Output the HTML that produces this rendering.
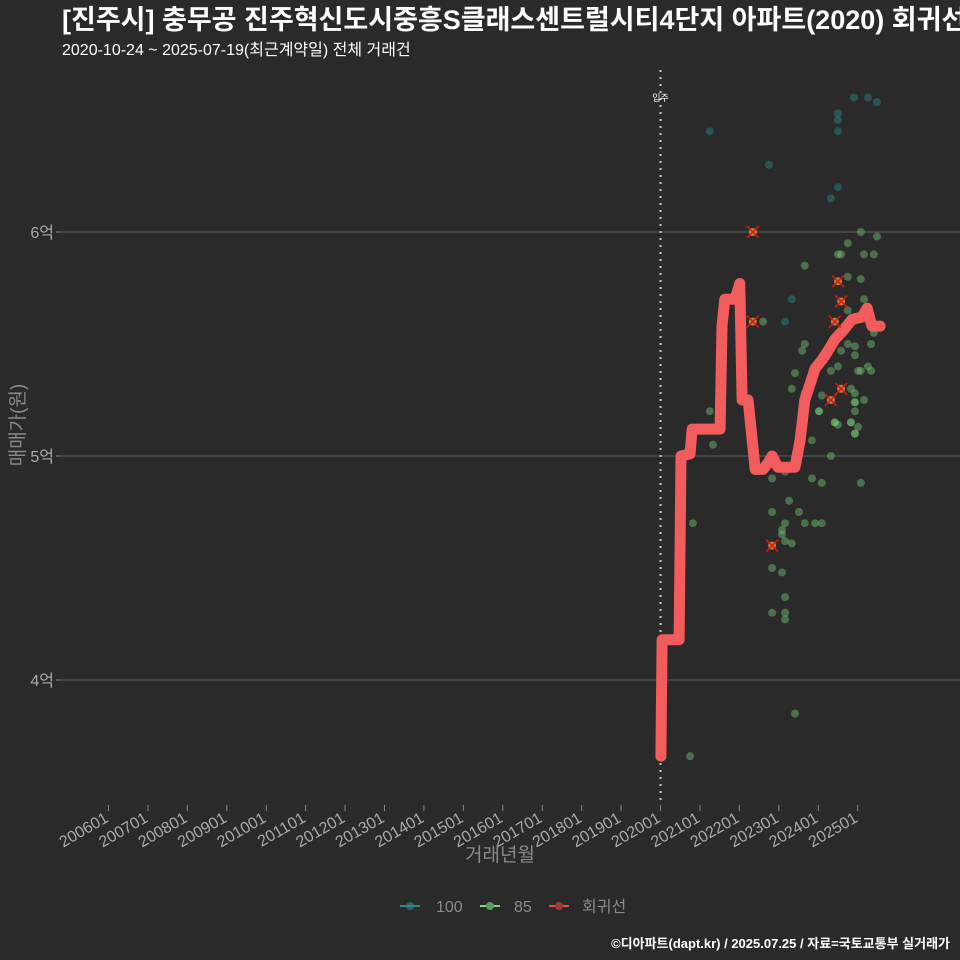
<!DOCTYPE html>
<html><head><meta charset="utf-8"><style>
html,body{margin:0;padding:0;background:#2a2a2b;overflow:hidden;}
svg{display:block;font-family:"Liberation Sans","Noto Sans CJK KR",sans-serif;}
</style></head><body>
<svg id="chart" width="960" height="960" viewBox="0 0 960 960" xmlns="http://www.w3.org/2000/svg">
<rect width="960" height="960" fill="#2a2a2b"/>
<text x="62" y="29" fill="#ffffff" font-size="27" font-weight="bold">[진주시] 충무공 진주혁신도시중흥S클래스센트럴시티4단지 아파트(2020) 회귀선</text>
<text x="62" y="55" fill="#ffffff" font-size="16">2020-10-24 ~ 2025-07-19(최근계약일) 전체 거래건</text>
<g id="grid"></g><g id="axes"></g><g id="marks"></g>
<text x="500" y="861" fill="#8a8a8a" font-size="19" text-anchor="middle">거래년월</text>
<text transform="translate(24,425) rotate(-90)" fill="#8a8a8a" font-size="19" text-anchor="middle">매매가(원)</text>
<g>
 <g><line x1="400" y1="906" x2="420" y2="906" stroke="#2a8a8a" stroke-width="2"/><circle cx="410" cy="906" r="4" fill="#2a8a8a" opacity="0.6"/><text x="436" y="912" fill="#8a8a8a" font-size="16">100</text></g>
 <g><line x1="480" y1="906" x2="500" y2="906" stroke="#7fd67f" stroke-width="2"/><circle cx="490" cy="906" r="4" fill="#5a9a5a"/><text x="514" y="912" fill="#8a8a8a" font-size="16">85</text></g>
 <g><line x1="549" y1="906" x2="569" y2="906" stroke="#e05050" stroke-width="2"/><circle cx="559" cy="906" r="4" fill="#a03a3a"/><text x="582" y="912" fill="#8a8a8a" font-size="16">회귀선</text></g>
</g>
<text x="950" y="948" fill="#ffffff" font-size="13" font-weight="bold" text-anchor="end">©디아파트(dapt.kr) / 2025.07.25 / 자료=국토교통부 실거래가</text>
</svg>
<script>
const xTickLabels=["200601","200701","200801","200901","201001","201101","201201","201301","201401","201501","201601","201701","201801","201901","202001","202101","202201","202301","202401","202501"];
const xTickYears=[2006,2007,2008,2009,2010,2011,2012,2013,2014,2015,2016,2017,2018,2019,2020,2021,2022,2023,2024,2025];
const yTickValues=[4,5,6];
const yTickLabels=["4억","5억","6억"];
const moveInYear=2020.0;
const s100T=[2024.91,2025.26,2025.49,2024.50,2024.50,2024.50,2021.25,2022.75,2024.50,2024.32,2023.33,2023.16];
const s100V=[6.60,6.60,6.58,6.53,6.50,6.45,6.45,6.30,6.20,6.15,5.70,5.60];
const s85T=[2025.08,2025.49,2024.75,2024.50,2024.58,2025.16,2025.41,2023.66,2024.75,2025.08,2025.16,2024.75,2022.60,2023.66,2023.59,2024.75,2025.34,2024.93,2024.93,2024.58,2025.41,2023.41,2024.32,2024.50,2025.01,2025.08,2025.34,2025.26,2023.33,2023.66,2024.09,2024.83,2024.93,2025.16,2024.93,2024.02,2024.93,2024.42,2024.50,2024.83,2025.01,2024.93,2021.25,2021.33,2020.82,2020.75,2023.41,2022.83,2023.16,2023.84,2024.09,2025.08,2024.32,2023.26,2022.83,2023.51,2023.16,2023.66,2023.92,2024.09,2023.08,2023.08,2023.16,2023.33,2022.83,2023.08,2023.16,2022.83,2023.16,2023.16,2023.84,2023.51,2024.02,2024.42,2024.83,2024.93,2024.93];
const s85V=[6.00,5.98,5.95,5.90,5.90,5.90,5.90,5.85,5.80,5.79,5.70,5.65,5.60,5.50,5.47,5.50,5.50,5.49,5.45,5.47,5.55,5.37,5.38,5.40,5.38,5.38,5.38,5.40,5.30,5.28,5.27,5.30,5.28,5.25,5.24,5.20,5.20,5.15,5.14,5.15,5.13,5.10,5.20,5.05,4.70,3.66,3.85,4.90,4.93,4.90,4.88,4.88,5.00,4.80,4.75,4.75,4.70,4.70,4.70,4.70,4.67,4.65,4.62,4.61,4.50,4.48,4.37,4.30,4.30,4.27,5.07,5.08,5.20,5.15,5.15,5.10,5.24];
const crossT=[2022.34,2022.34,2024.50,2024.58,2024.42,2024.58,2024.32,2022.83];
const crossV=[6.00,5.60,5.78,5.69,5.60,5.30,5.25,4.60];
const lineT=[2020.01,2020.04,2020.47,2020.52,2020.75,2020.80,2021.51,2021.56,2021.63,2021.89,2022.01,2022.07,2022.22,2022.40,2022.60,2022.73,2022.83,2022.98,2023.41,2023.54,2023.66,2023.92,2024.10,2024.25,2024.42,2024.68,2024.86,2025.11,2025.24,2025.36,2025.57];
const lineV=[3.66,4.18,4.18,5.00,5.01,5.12,5.12,5.58,5.70,5.70,5.77,5.25,5.25,4.94,4.94,4.97,5.00,4.95,4.95,5.07,5.25,5.39,5.43,5.47,5.52,5.57,5.61,5.62,5.66,5.58,5.58];

const NS="http://www.w3.org/2000/svg";
function xs(t){return 108.5+(t-2006)*39.43;}
function ys(v){return 232+(6-v)*224;}
function mk(tag,attrs,parent){const e=document.createElementNS(NS,tag);for(const k in attrs)e.setAttribute(k,attrs[k]);parent.appendChild(e);return e;}
const grid=document.getElementById('grid'),axes=document.getElementById('axes'),marks=document.getElementById('marks');
yTickValues.forEach((v,i)=>{
 const g=mk('line',{x1:60,x2:960,y1:ys(v),y2:ys(v),stroke:'#5e5e5e','stroke-width':1},grid);
 
 
 const tk=mk('line',{x1:56,x2:60,y1:ys(v),y2:ys(v),stroke:'#888'},axes);
 
 
 const t=mk('text',{x:54,y:ys(v)+6,fill:'#aaaaaa','font-size':16,'text-anchor':'end'},axes);
 t.textContent=yTickLabels[i];
 
 
});
xTickYears.forEach((yr,i)=>{
 const x=xs(yr);
 const tk=mk('line',{x1:x,x2:x,y1:805,y2:811,stroke:'#888'},axes);
 
 
 const t=mk('text',{transform:`translate(${x+1},821) rotate(-30)`,fill:'#aaaaaa','font-size':16,'text-anchor':'end'},axes);
 t.textContent=xTickLabels[i];
 
 
});
const vl=mk('line',{x1:xs(moveInYear),x2:xs(moveInYear),y1:70,y2:805,stroke:'#cccccc','stroke-width':2,'stroke-dasharray':'2,5'},marks);


const vt=mk('text',{x:xs(moveInYear),y:101,fill:'#ffffff','font-size':9,'text-anchor':'middle'},marks);
vt.textContent='입주';


s100T.forEach((t,i)=>{
 const c=mk('circle',{cx:xs(t),cy:ys(s100V[i]),r:4,fill:'#2a8a8a','fill-opacity':0.45},marks);
 
 
});
s85T.forEach((t,i)=>{
 const c=mk('circle',{cx:xs(t),cy:ys(s85V[i]),r:4,fill:'#7fd67f','fill-opacity':0.4},marks);
 
 
});
let d='';
lineT.forEach((t,i)=>{d+=(i?'L':'M')+xs(t).toFixed(1)+','+ys(lineV[i]).toFixed(1);});
const p=mk('path',{d:d,fill:'none',stroke:'#f25c5c','stroke-width':11,'stroke-linejoin':'round','stroke-linecap':'round'},marks);


crossT.forEach((t,i)=>{
 const x=xs(t),y=ys(crossV[i]);
 const g=mk('g',{},marks);
 
 
 mk('circle',{cx:x,cy:y,r:4,fill:'#c8a040','fill-opacity':0.8},g);
 mk('path',{d:`M${x-6},${y-6}L${x+6},${y+6}M${x-6},${y+6}L${x+6},${y-6}`,stroke:'#ee1111','stroke-width':1.5},g);
});
</script>
</body></html>
